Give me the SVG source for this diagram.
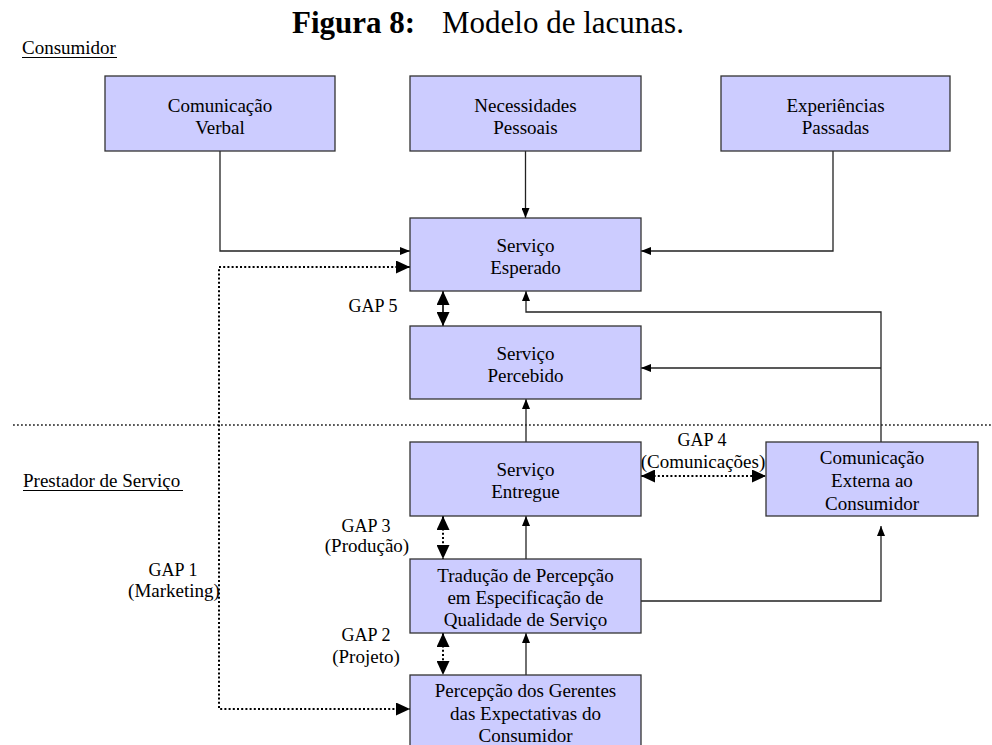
<svg xmlns="http://www.w3.org/2000/svg" width="992" height="745" viewBox="0 0 992 745">
  <style>
    text { font-family: "Liberation Serif", "Times New Roman", serif; fill: #000; }
    .lbl { font-size: 19px; }
    .gl { font-size: 18px; }
    .mid { text-anchor: middle; }
    .box { fill: #ccccff; stroke: #333; stroke-width: 1.3; }
    .ln { fill: none; stroke: #222; stroke-width: 1.3; }
    .dot { fill: none; stroke: #000; stroke-width: 2; stroke-dasharray: 2 2.2; }
    .sep { fill: none; stroke: #222; stroke-width: 1.6; stroke-dasharray: 1.8 2.2; }
    .gap { fill: none; stroke: #000; stroke-width: 1.6; }
  </style>
  <defs>
    <marker id="arr" markerUnits="userSpaceOnUse" markerWidth="10" markerHeight="8" refX="10" refY="4" orient="auto-start-reverse">
      <path d="M0,0 L10,4 L0,8 z" fill="#000"/>
    </marker>
    <marker id="garr" markerUnits="userSpaceOnUse" markerWidth="14" markerHeight="13" refX="14" refY="6.5" orient="auto-start-reverse">
      <path d="M0,0 L14,6.5 L0,13 z" fill="#000"/>
    </marker>
  </defs>

  <!-- title -->
  <text x="292" y="33" font-size="31" font-weight="bold">Figura 8:</text>
  <text x="442" y="33" font-size="31">Modelo de lacunas.</text>

  <!-- zone labels and separator -->
  <text class="lbl" x="22" y="54">Consumidor</text>
  <line x1="22" y1="57.5" x2="117" y2="57.5" stroke="#000" stroke-width="1"/>
  <text class="lbl" x="23" y="487">Prestador de Serviço</text>
  <line x1="23" y1="490.5" x2="183" y2="490.5" stroke="#000" stroke-width="1"/>
  <line class="sep" x1="13" y1="425" x2="992" y2="425"/>

  <!-- connectors -->
  <g id="connectors">
    <path class="ln" d="M220,151 V251 H410" marker-end="url(#arr)"/>
    <path class="ln" d="M525.5,151 V218" marker-end="url(#arr)"/>
    <path class="ln" d="M833,151 V251 H641" marker-end="url(#arr)"/>
    <path class="ln" d="M881,442 V312 H526 V291" marker-end="url(#arr)"/>
    <path class="ln" d="M881,368 H641" marker-end="url(#arr)"/>
    <path class="ln" d="M526,442 V399" marker-end="url(#arr)"/>
    <path class="ln" d="M526,559 V516" marker-end="url(#arr)"/>
    <path class="ln" d="M526,675 V633" marker-end="url(#arr)"/>
    <path class="ln" d="M641,601 H881 V526" marker-end="url(#arr)"/>

    <!-- gaps -->
    <path class="gap" d="M443,291 V326" marker-start="url(#garr)" marker-end="url(#garr)"/>
    <path class="dot" d="M443,516 V559" marker-start="url(#garr)" marker-end="url(#garr)"/>
    <path class="dot" d="M443,633 V675" marker-start="url(#garr)" marker-end="url(#garr)"/>
    <path class="dot" d="M641,476 H766" marker-start="url(#garr)" marker-end="url(#garr)"/>
    <path class="dot" d="M410,267 H219 V709 H410" marker-start="url(#garr)" marker-end="url(#garr)"/>
  </g>

  <!-- gap labels -->
  <text class="gl mid" x="373" y="312">GAP 5</text>
  <text class="gl mid" x="702" y="446">GAP 4</text>
  <text class="lbl mid" x="703" y="468">(Comunicações)</text>
  <text class="gl mid" x="366" y="532">GAP 3</text>
  <text class="lbl mid" x="367" y="552">(Produção)</text>
  <text class="gl mid" x="366" y="641">GAP 2</text>
  <text class="lbl mid" x="366" y="663">(Projeto)</text>
  <text class="gl mid" x="173" y="576">GAP 1</text>
  <text class="lbl mid" x="174" y="597">(Marketing)</text>

  <!-- nodes -->
  <g id="comunicacao-verbal">
    <rect class="box" x="105" y="76" width="230" height="75"/>
    <text class="lbl mid" x="220" y="112">Comunicação</text>
    <text class="lbl mid" x="220" y="134">Verbal</text>
  </g>
  <g id="necessidades-pessoais">
    <rect class="box" x="410" y="76" width="231" height="75"/>
    <text class="lbl mid" x="525.5" y="112">Necessidades</text>
    <text class="lbl mid" x="525.5" y="134">Pessoais</text>
  </g>
  <g id="experiencias-passadas">
    <rect class="box" x="721" y="76" width="229" height="75"/>
    <text class="lbl mid" x="835.5" y="112">Experiências</text>
    <text class="lbl mid" x="835.5" y="134">Passadas</text>
  </g>
  <g id="servico-esperado">
    <rect class="box" x="410" y="218" width="231" height="73"/>
    <text class="lbl mid" x="525.5" y="252">Serviço</text>
    <text class="lbl mid" x="525.5" y="274">Esperado</text>
  </g>
  <g id="servico-percebido">
    <rect class="box" x="410" y="326" width="231" height="73"/>
    <text class="lbl mid" x="525.5" y="360">Serviço</text>
    <text class="lbl mid" x="525.5" y="382">Percebido</text>
  </g>
  <g id="servico-entregue">
    <rect class="box" x="410" y="442" width="231" height="74"/>
    <text class="lbl mid" x="525.5" y="476">Serviço</text>
    <text class="lbl mid" x="525.5" y="498">Entregue</text>
  </g>
  <g id="comunicacao-externa">
    <rect class="box" x="766" y="442" width="212" height="74"/>
    <text class="lbl mid" x="872" y="464">Comunicação</text>
    <text class="lbl mid" x="872" y="487">Externa ao</text>
    <text class="lbl mid" x="872" y="510">Consumidor</text>
  </g>
  <g id="traducao">
    <rect class="box" x="410" y="559" width="231" height="74"/>
    <text class="lbl mid" x="525.5" y="581.5">Tradução de Percepção</text>
    <text class="lbl mid" x="525.5" y="603.5">em Especificação de</text>
    <text class="lbl mid" x="525.5" y="625.5">Qualidade de Serviço</text>
  </g>
  <g id="percepcao-gerentes">
    <rect class="box" x="410" y="675" width="231" height="80"/>
    <text class="lbl mid" x="525.5" y="697">Percepção dos Gerentes</text>
    <text class="lbl mid" x="525.5" y="720">das Expectativas do</text>
    <text class="lbl mid" x="525.5" y="742">Consumidor</text>
  </g>
</svg>
